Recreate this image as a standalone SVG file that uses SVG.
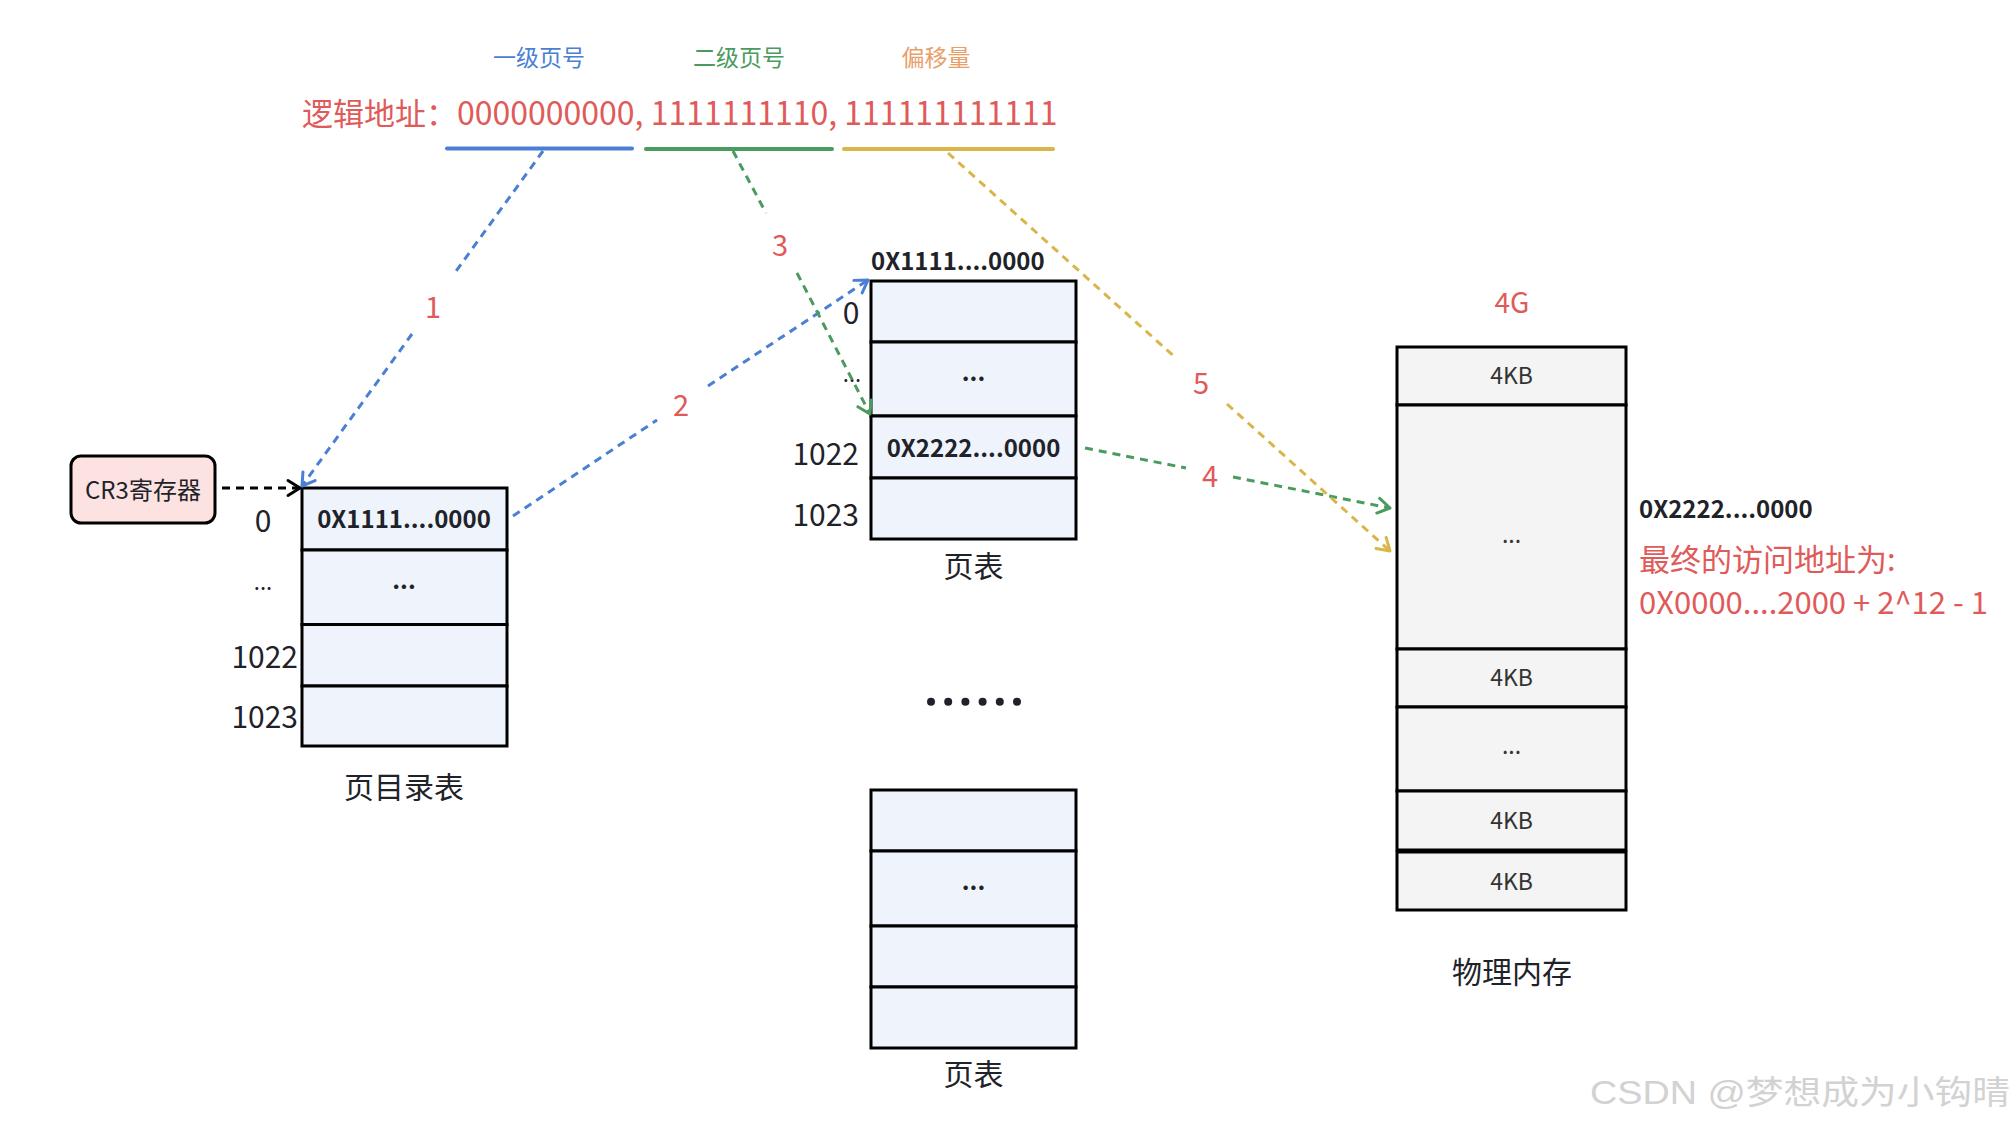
<svg xmlns="http://www.w3.org/2000/svg" width="2016" height="1126" viewBox="0 0 2016 1126">
<style>
text{font-family:"Noto Sans CJK SC","Noto Sans",sans-serif;fill:#1f2329}
.lbl{font-size:30px}
.b{font-weight:bold;font-size:24px}
.mid{text-anchor:middle}
.end{text-anchor:end}
.red{fill:#e05a5a}
.num{font-size:29px;fill:#e05a5a;text-anchor:middle}
.pt{fill:#eef3fc;stroke:#000;stroke-width:3}
.pm{fill:#f4f4f4;stroke:#000;stroke-width:3}
.kb{font-size:23px;fill:#333;text-anchor:middle}
.dash{fill:none;stroke-width:3;stroke-dasharray:8 6}
</style>
<defs>
<marker id="ab" viewBox="0 0 20 20" markerWidth="20" markerHeight="20" refX="15" refY="10" orient="auto" markerUnits="userSpaceOnUse"><path d="M3,2.5 L15,10 L3,17.5" fill="none" stroke="#4a7fd4" stroke-width="3" stroke-linecap="round" stroke-linejoin="round"/></marker>
<marker id="ag" viewBox="0 0 20 20" markerWidth="20" markerHeight="20" refX="15" refY="10" orient="auto" markerUnits="userSpaceOnUse"><path d="M3,2.5 L15,10 L3,17.5" fill="none" stroke="#4a9b5e" stroke-width="3" stroke-linecap="round" stroke-linejoin="round"/></marker>
<marker id="ay" viewBox="0 0 20 20" markerWidth="20" markerHeight="20" refX="15" refY="10" orient="auto" markerUnits="userSpaceOnUse"><path d="M3,2.5 L15,10 L3,17.5" fill="none" stroke="#d9b54a" stroke-width="3" stroke-linecap="round" stroke-linejoin="round"/></marker>
<marker id="ak" viewBox="0 0 20 20" markerWidth="20" markerHeight="20" refX="15" refY="10" orient="auto" markerUnits="userSpaceOnUse"><path d="M3,2.5 L15,10 L3,17.5" fill="none" stroke="#000" stroke-width="3" stroke-linecap="round" stroke-linejoin="round"/></marker>
</defs>
<rect width="2016" height="1126" fill="#fff"/>

<g id="address">
<text x="539" y="66" class="mid" style="font-size:23px;fill:#4a7fd4">一级页号</text>
<text x="739" y="66" class="mid" style="font-size:23px;fill:#4a9b5e">二级页号</text>
<text x="936" y="66" class="mid" style="font-size:23px;fill:#e8a06a">偏移量</text>
<text x="302" y="125" class="red" style="font-size:31px">逻辑地址：<tspan style="font-size:32px">0000000000, 1111111110, 111111111111</tspan></text>
<line x1="447" y1="148.5" x2="632" y2="148.5" stroke="#4a7fd4" stroke-width="4" stroke-linecap="round"/>
<line x1="646" y1="149" x2="832" y2="149" stroke="#4a9b5e" stroke-width="4" stroke-linecap="round"/>
<line x1="844" y1="149" x2="1053" y2="149" stroke="#d9b54a" stroke-width="4" stroke-linecap="round"/>
</g>

<g id="cr3">
<rect x="71" y="456" width="144" height="67" rx="10" fill="#fde2e2" stroke="#000" stroke-width="3"/>
<text x="143" y="499" class="mid" style="font-size:24px">CR3寄存器</text>
</g>

<g id="page-directory">
<rect x="302" y="488" width="205" height="62" class="pt"/>
<rect x="302" y="550" width="205" height="74.5" class="pt"/>
<rect x="302" y="624.5" width="205" height="61.5" class="pt"/>
<rect x="302" y="686" width="205" height="60" class="pt"/>
<text x="404" y="528" class="b mid">0X1111....0000</text>
<text x="404" y="589" class="b mid">...</text>
<text x="263" y="532" class="lbl mid">0</text>
<text x="263" y="590" class="mid" style="font-size:22px">...</text>
<text x="298" y="668" class="lbl end">1022</text>
<text x="298" y="728" class="lbl end">1023</text>
<text x="404" y="798" class="lbl mid">页目录表</text>
</g>

<g id="page-table-1">
<text x="871" y="270" class="b">0X1111....0000</text>
<rect x="871" y="281" width="205" height="61" class="pt"/>
<rect x="871" y="342" width="205" height="74" class="pt"/>
<rect x="871" y="416" width="205" height="62" class="pt"/>
<rect x="871" y="478" width="205" height="61" class="pt"/>
<text x="973.5" y="381" class="b mid">...</text>
<text x="973.5" y="457" class="b mid">0X2222....0000</text>
<text x="851" y="324" class="lbl mid">0</text>
<text x="852" y="382" class="mid" style="font-size:22px">...</text>
<text x="859" y="465" class="lbl end">1022</text>
<text x="859" y="526" class="lbl end">1023</text>
<text x="973.5" y="577" class="lbl mid">页表</text>
</g>

<g id="more">
<circle cx="931" cy="701.7" r="4" fill="#1f2329"/>
<circle cx="948.2" cy="701.7" r="4" fill="#1f2329"/>
<circle cx="965.4" cy="701.7" r="4" fill="#1f2329"/>
<circle cx="982.6" cy="701.7" r="4" fill="#1f2329"/>
<circle cx="999.8" cy="701.7" r="4" fill="#1f2329"/>
<circle cx="1017" cy="701.7" r="4" fill="#1f2329"/>
</g>

<g id="page-table-2">
<rect x="871" y="790" width="205" height="61" class="pt"/>
<rect x="871" y="851" width="205" height="75" class="pt"/>
<rect x="871" y="926" width="205" height="61" class="pt"/>
<rect x="871" y="987" width="205" height="61" class="pt"/>
<text x="973.5" y="890" class="b mid">...</text>
<text x="973.5" y="1085" class="lbl mid">页表</text>
</g>

<g id="physical-memory">
<text x="1512" y="313" class="mid red" style="font-size:28px">4G</text>
<rect x="1397" y="347" width="229" height="58" class="pm"/>
<rect x="1397" y="405" width="229" height="244" class="pm"/>
<rect x="1397" y="649" width="229" height="58" class="pm"/>
<rect x="1397" y="707" width="229" height="84" class="pm"/>
<rect x="1397" y="791" width="229" height="59" class="pm"/>
<rect x="1397" y="852" width="229" height="58" class="pm"/>
<text x="1511.5" y="384" class="kb">4KB</text>
<text x="1511.5" y="543" class="kb">...</text>
<text x="1511.5" y="686" class="kb">4KB</text>
<text x="1511.5" y="754" class="kb">...</text>
<text x="1511.5" y="829" class="kb">4KB</text>
<text x="1511.5" y="890" class="kb">4KB</text>
<text x="1512" y="983" class="lbl mid">物理内存</text>
</g>

<g id="result">
<text x="1639" y="518" class="b">0X2222....0000</text>
<text x="1639" y="571" class="red" style="font-size:31px">最终的访问地址为:</text>
<text x="1639" y="614" class="red" style="font-size:31px">0X0000....2000 + 2^12 - 1</text>
</g>

<g id="connectors">
<path d="M222,488 L300,488" class="dash" stroke="#000" marker-end="url(#ak)"/>
<path d="M543,151 L454,274 M412,334 L302,486" class="dash" stroke="#4a7fd4" marker-end="url(#ab)"/>
<path d="M513,516 L657,420 M708,386 L868,280" class="dash" stroke="#4a7fd4" marker-end="url(#ab)"/>
<path d="M733,151 L766,213 M797,273 L870,414" class="dash" stroke="#4a9b5e" marker-end="url(#ag)"/>
<path d="M1085,448 L1186,468 M1233,477 L1390,508" class="dash" stroke="#4a9b5e" marker-end="url(#ag)"/>
<path d="M948,153 L1177,359 M1227,404 L1390,551" class="dash" stroke="#d9b54a" marker-end="url(#ay)"/>
<text x="433" y="318" class="num">1</text>
<text x="681" y="416" class="num">2</text>
<text x="780" y="256" class="num">3</text>
<text x="1210" y="487" class="num">4</text>
<text x="1201" y="394" class="num">5</text>
</g>

<g id="watermark">
<text x="1590" y="1104" textLength="420" lengthAdjust="spacingAndGlyphs" style="font-size:33px;fill:#d2d2d2;font-family:'Liberation Sans','Noto Sans CJK SC',sans-serif">CSDN @梦想成为小钩晴</text>
</g>
</svg>
